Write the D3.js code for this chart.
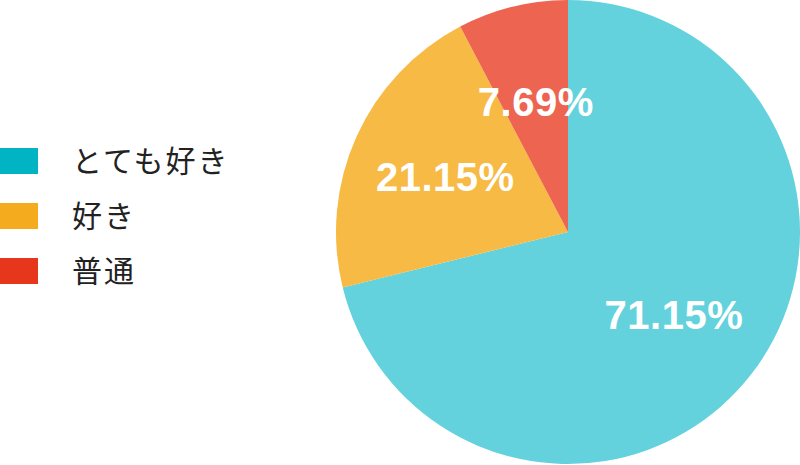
<!DOCTYPE html>
<html>
<head>
<meta charset="utf-8">
<script src="https://cdn.jsdelivr.net/npm/d3@7"></script>
<style>
  body { margin: 0; background: #fff; }
</style>
</head>
<body>
<div id="chart"></div>
<script>
// data
var categories = ["とても好き", "好き", "普通"];
var values = [71.15, 21.15, 7.69];
var sliceColors = ["#63d2dc", "#f7ba45", "#ed6450"];
var legendColors = ["#00b4c4", "#f5ab1e", "#e6371c"];

var width = 800, height = 465;
var cx = 568, cy = 232, radius = 232;

var svg = d3.select("#chart").append("svg")
    .attr("width", width)
    .attr("height", height);

var rows = categories.map(function(c, i) { return {name: c, value: values[i], i: i}; });

var pie = d3.pie()
    .sort(null)
    .value(function(d) { return d.value; });

var arc = d3.arc().innerRadius(0).outerRadius(radius);
var labelArc = d3.arc().innerRadius(radius * 0.58).outerRadius(radius * 0.58);

var g = svg.append("g")
    .attr("transform", "translate(" + cx + "," + cy + ")");

var arcs = pie(rows);

g.selectAll("path")
    .data(arcs)
    .enter().append("path")
    .attr("d", arc)
    .style("fill", function(d) { return sliceColors[d.data.i]; });

g.selectAll(".lbl")
    .data(arcs)
    .enter().append("text")
    .attr("class", "lbl")
    .attr("transform", function(d) { return "translate(" + labelArc.centroid(d) + ")"; })
    .attr("text-anchor", "middle")
    .attr("dy", "0.36em")
    .style("font-family", "'Liberation Sans', Arial, sans-serif")
    .style("font-weight", "bold")
    .style("font-size", "40px")
    .style("letter-spacing", "0.5px")
    .style("fill", "#fff")
    .text(function(d) { return d.data.value.toFixed(2) + "%"; });

// legend
var legendY = d3.scaleBand()
    .domain(categories)
    .range([134, 299]);

var legend = svg.append("g");
var item = legend.selectAll("g")
    .data(rows)
    .enter().append("g")
    .attr("transform", function(d) { return "translate(0," + legendY(d.name) + ")"; });

item.append("rect")
    .attr("x", 0)
    .attr("y", 14)
    .attr("width", 38)
    .attr("height", 26)
    .style("fill", function(d) { return legendColors[d.i]; });

item.append("text")
    .attr("x", 72)
    .attr("y", 27)
    .attr("dy", "0.36em")
    .style("font-family", "'Noto Sans CJK JP', sans-serif")
    .style("font-size", "30px")
    .style("letter-spacing", "2px")
    .style("fill", "#222")
    .text(function(d) { return d.name; });
</script>
</body>
</html>
